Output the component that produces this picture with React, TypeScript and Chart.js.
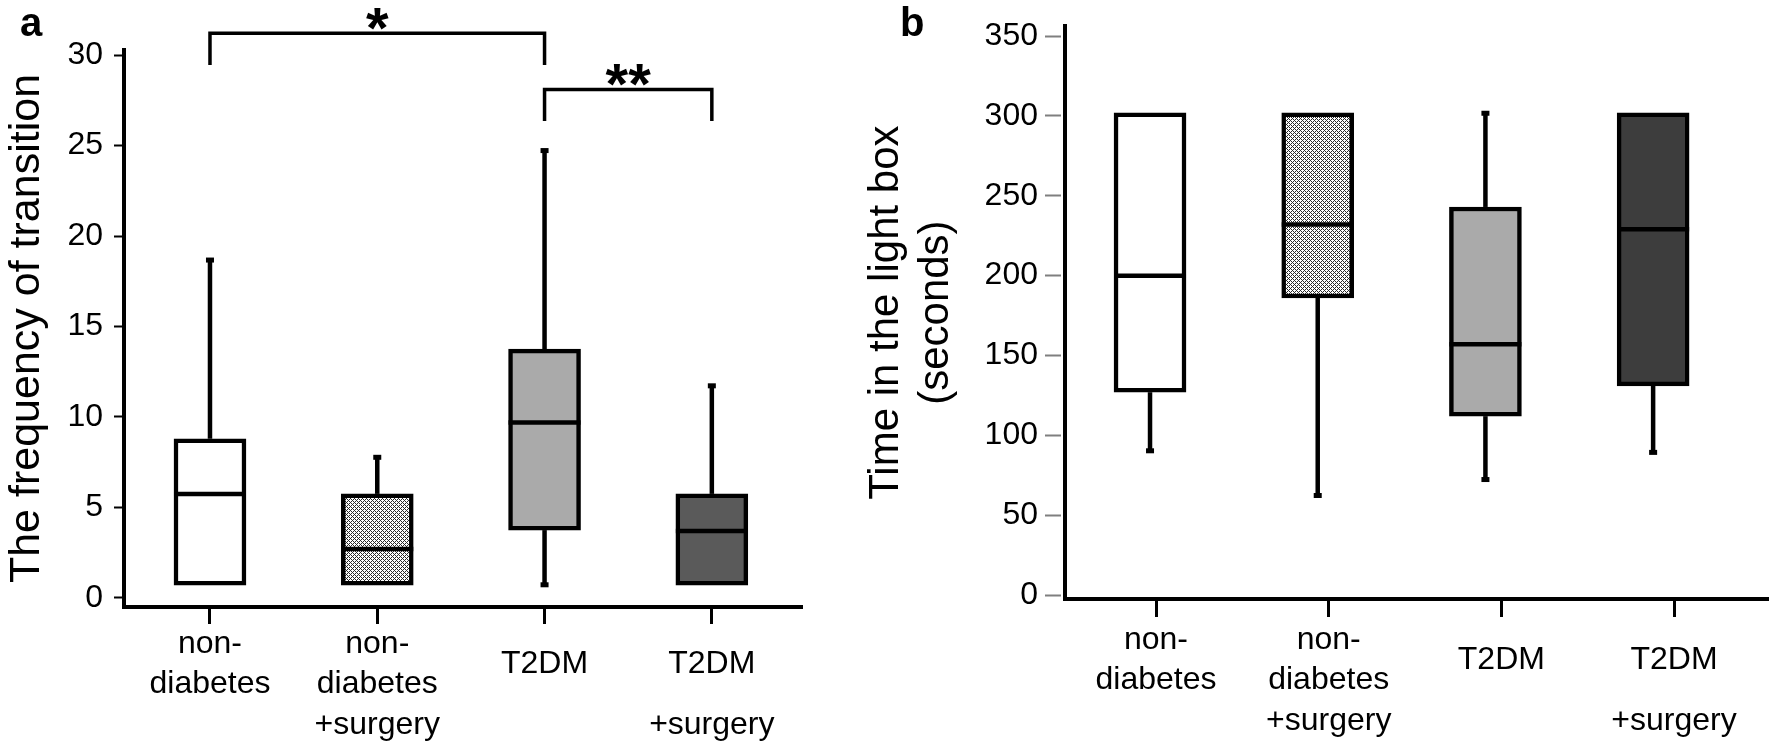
import React, { useEffect, useRef } from "react";
import { Chart, registerables } from "chart.js";

Chart.register(...registerables);

// ---------- data ----------
const groups = ["non-diabetes", "non-diabetes +surgery", "T2DM", "T2DM +surgery"];
const groupLabelLines = [["non-", "diabetes"], ["non-", "diabetes", "+surgery"], ["T2DM"], ["T2DM", "+surgery"]];
const groupIndex = [0, 1, 2, 3];

// panel a: frequency of transition
const freqTicks = [0, 5, 10, 15, 20, 25, 30];
const freqMin = [0.7, 0.7, 0.7, 0.7];
const freqQ1 = [0.7, 0.7, 3.75, 0.7];
const freqMedian = [5.75, 2.7, 9.7, 3.7];
const freqQ3 = [8.8, 5.75, 13.75, 5.75];
const freqMax = [18.7, 7.8, 24.75, 11.75];

// significance brackets (panel a)
const sigPairs = [[0, 2], [2, 3]];
const sigMarks = ["*", "**"];
const sigBarValue = [31.2, 28.1];
const sigLegValue = [29.45, 26.35];

// panel b: time in the light box
const timeTicks = [0, 50, 100, 150, 200, 250, 300, 350];
const timeMin = [90, 62, 72, 89];
const timeQ1 = [127, 186, 112, 131];
const timeMedian = [200, 232, 157, 229];
const timeQ3 = [302, 302, 243, 302];
const timeMax = [302, 302, 302, 302];

// ---------- style ----------
const FONT = "'Liberation Sans', Arial, Helvetica, sans-serif";
const labelRows = [[0, 2], [0, 2, 4], [1], [1, 4]]; // half-line rows of each x label line

function spreadLabel(i: number): string[] {
  const rows = labelRows[i];
  const lines = groupLabelLines[i];
  if (!rows || !lines) return [""];
  const out: string[] = new Array(Math.max(...rows) + 1).fill("");
  rows.forEach((r, k) => (out[r] = lines[k]));
  return out;
}

function makeHatch(ctx: CanvasRenderingContext2D): CanvasPattern | string {
  const pc = document.createElement("canvas");
  pc.width = 4;
  pc.height = 4;
  const p = pc.getContext("2d");
  if (!p) return "#b4b4b4";
  p.fillStyle = "#ffffff";
  p.fillRect(0, 0, 4, 4);
  p.fillStyle = "#2a2a2a";
  const pts = [[0, 0], [1, 1], [2, 2], [3, 3], [1, 3], [3, 1]];
  pts.forEach(([x, y]) => p.fillRect(x, y, 1, 1));
  return ctx.createPattern(pc, "repeat") || "#b4b4b4";
}

type Panel = {
  width: number;
  mins: number[];
  q1s: number[];
  meds: number[];
  q3s: number[];
  maxs: number[];
  fills: string[];
  yTicks: number[];
  yMin: number;
  yMax: number;
  title: string | string[];
  titleSize: number;
  titlePad: number;
  padTop: number;
  padRight: number;
  yWidth: number;
  xHeight: number;
  yTickLen: number;
  yTickColor: string;
  yTickDash: number[];
  yTickPad: number;
  xTickLen: number;
  xTickPad: number;
  xMin: number;
  xMax: number;
  xbMin: number;
  xbMax: number;
  letter: string;
  letterX: number;
  brackets: boolean;
};

const BOX_W = 72;
const LW = 4.5;

function makeChart(canvas: HTMLCanvasElement, p: Panel): Chart {
  const ctx = canvas.getContext("2d") as CanvasRenderingContext2D;
  const hatch = makeHatch(ctx);
  const bg = p.fills.map((f) => (f === "hatch" ? hatch : f));

  const extras = {
    id: "boxExtras",
    afterDatasetsDraw(chart: any) {
      const c = chart.ctx as CanvasRenderingContext2D;
      const xs = chart.scales.xb;
      const ys = chart.scales.y;
      c.save();
      c.strokeStyle = "#000";
      c.fillStyle = "#000";
      c.lineCap = "butt";
      for (let i = 0; i < p.q1s.length; i++) {
        const x = xs.getPixelForValue(i);
        const yQ1 = ys.getPixelForValue(p.q1s[i]);
        const yQ3 = ys.getPixelForValue(p.q3s[i]);
        const yMed = ys.getPixelForValue(p.meds[i]);
        c.lineWidth = LW;
        if (p.maxs[i] > p.q3s[i]) {
          const yMax = ys.getPixelForValue(p.maxs[i]);
          c.beginPath();
          c.moveTo(x, yQ3);
          c.lineTo(x, yMax);
          c.stroke();
          c.fillRect(x - 4, yMax - 2, 8, 5);
        }
        if (p.mins[i] < p.q1s[i]) {
          const yMin = ys.getPixelForValue(p.mins[i]);
          c.beginPath();
          c.moveTo(x, yQ1);
          c.lineTo(x, yMin);
          c.stroke();
          c.fillRect(x - 4, yMin - 3, 8, 5);
        }
        c.beginPath();
        c.moveTo(x - BOX_W / 2, yMed);
        c.lineTo(x + BOX_W / 2, yMed);
        c.stroke();
      }
      c.restore();
    },
    afterDraw(chart: any) {
      const c = chart.ctx as CanvasRenderingContext2D;
      const xs = chart.scales.xb;
      const ys = chart.scales.y;
      c.save();
      c.fillStyle = "#000";
      c.strokeStyle = "#000";
      if (p.brackets) {
        c.lineWidth = 3.5;
        c.lineJoin = "miter";
        for (let k = 0; k < sigPairs.length; k++) {
          const [i, j] = sigPairs[k];
          const x1 = xs.getPixelForValue(i);
          const x2 = xs.getPixelForValue(j);
          const yb = ys.getPixelForValue(sigBarValue[k]);
          const yl = ys.getPixelForValue(sigLegValue[k]);
          c.beginPath();
          c.moveTo(x1, yl);
          c.lineTo(x1, yb);
          c.lineTo(x2, yb);
          c.lineTo(x2, yl);
          c.stroke();
          c.font = `bold 58px ${FONT}`;
          c.textAlign = "center";
          c.textBaseline = "alphabetic";
          c.fillText(sigMarks[k], (x1 + x2) / 2, yb + 15);
        }
      }
      c.font = `bold 40px ${FONT}`;
      c.textAlign = "left";
      c.textBaseline = "alphabetic";
      c.fillText(p.letter, p.letterX, 36);
      c.restore();
    },
  };

  return new Chart(canvas, {
    type: "bar",
    data: {
      labels: groups,
      datasets: [
        {
          type: "bar",
          data: p.q1s.map((q, i) => ({ x: groupIndex[i], y: [q, p.q3s[i]] })) as any,
          xAxisID: "xb",
          yAxisID: "y",
          backgroundColor: bg as any,
          borderColor: "#000",
          borderWidth: LW,
          borderSkipped: false,
          barThickness: BOX_W,
        },
      ],
    },
    options: {
      animation: false,
      responsive: false,
      maintainAspectRatio: false,
      events: [],
      layout: { padding: { top: p.padTop, right: p.padRight, left: 0, bottom: 0 } },
      plugins: { legend: { display: false }, tooltip: { enabled: false }, title: { display: false } },
      scales: {
        x: {
          type: "linear",
          position: "bottom",
          min: p.xMin,
          max: p.xMax,
          offset: false,
          afterBuildTicks: (s: any) => {
            s.ticks = groupIndex.map((v) => ({ value: v }));
          },
          grid: {
            display: true,
            offset: false,
            drawOnChartArea: false,
            drawTicks: true,
            tickLength: p.xTickLen,
            tickWidth: 3,
            tickColor: "#000",
          },
          border: { display: true, color: "#000", width: 4 },
          ticks: {
            autoSkip: false,
            maxRotation: 0,
            minRotation: 0,
            padding: p.xTickPad,
            color: "#000",
            font: { family: FONT, size: 32, lineHeight: "20.25px" as any },
            callback: (v: any) => spreadLabel(Math.round(Number(v))),
          },
          afterFit: (s: any) => {
            s.height = p.xHeight;
          },
        },
        xb: {
          type: "linear",
          display: false,
          min: p.xbMin,
          max: p.xbMax,
          offset: false,
          grid: { offset: false },
        },
        y: {
          type: "linear",
          position: "left",
          min: p.yMin,
          max: p.yMax,
          afterBuildTicks: (s: any) => {
            s.ticks = p.yTicks.map((v) => ({ value: v }));
          },
          grid: {
            display: true,
            drawOnChartArea: false,
            drawTicks: true,
            tickLength: p.yTickLen,
            tickWidth: 2,
            tickColor: p.yTickColor,
            tickBorderDash: p.yTickDash,
          },
          border: { display: true, color: "#000", width: 4 },
          ticks: {
            color: "#000",
            padding: p.yTickPad,
            font: { family: FONT, size: 32 },
          },
          title: {
            display: true,
            text: p.title,
            color: "#000",
            font: { family: FONT, size: p.titleSize, lineHeight: 1.2 },
            padding: { top: p.titlePad, bottom: 0 },
          },
          afterFit: (s: any) => {
            s.width = p.yWidth;
          },
        },
      } as any,
    },
    plugins: [extras],
  } as any);
}

const panelA: Panel = {
  width: 850,
  mins: freqMin,
  q1s: freqQ1,
  meds: freqMedian,
  q3s: freqQ3,
  maxs: freqMax,
  fills: ["#ffffff", "hatch", "#aaaaaa", "#5a5a5a"],
  yTicks: freqTicks,
  yMin: -0.5,
  yMax: 30.28,
  title: "The frequency of transition",
  titleSize: 43,
  titlePad: 1,
  padTop: 50,
  padRight: 48,
  yWidth: 124,
  xHeight: 142,
  yTickLen: 10,
  yTickColor: "#000",
  yTickDash: [],
  yTickPad: 11,
  xTickLen: 17,
  xTickPad: 10,
  xMin: -0.514,
  xMax: 3.539,
  xbMin: -0.514,
  xbMax: 3.539,
  letter: "a",
  letterX: 20,
  brackets: true,
};

const panelB: Panel = {
  width: 922,
  mins: timeMin,
  q1s: timeQ1,
  meds: timeMedian,
  q3s: timeQ3,
  maxs: timeMax,
  fills: ["#ffffff", "hatch", "#aaaaaa", "#3d3d3d"],
  yTicks: timeTicks,
  yMin: -2.5,
  yMax: 356.2,
  title: ["Time in the light box", "(seconds)"],
  titleSize: 42,
  titlePad: 11,
  padTop: 20,
  padRight: 4,
  yWidth: 215,
  xHeight: 150,
  yTickLen: 20,
  yTickColor: "#7f7f7f",
  yTickDash: [16, 10],
  yTickPad: 7,
  xTickLen: 18,
  xTickPad: 13,
  xMin: -0.527,
  xMax: 3.544,
  xbMin: -0.507,
  xbMax: 3.685,
  letter: "b",
  letterX: 50,
  brackets: false,
};

function BoxPanel({ panel, left }: { panel: Panel; left: number }) {
  const ref = useRef<HTMLCanvasElement | null>(null);
  useEffect(() => {
    if (!ref.current) return;
    const chart = makeChart(ref.current, panel);
    return () => chart.destroy();
  }, [panel]);
  return (
    <canvas
      ref={ref}
      width={panel.width}
      height={749}
      style={{ position: "absolute", left, top: 0, width: panel.width, height: 749 }}
    />
  );
}

export default function App() {
  return (
    <div style={{ position: "absolute", left: 0, top: 0, width: 1772, height: 749, background: "#fff", overflow: "hidden" }}>
      <BoxPanel panel={panelA} left={0} />
      <BoxPanel panel={panelB} left={850} />
    </div>
  );
}
